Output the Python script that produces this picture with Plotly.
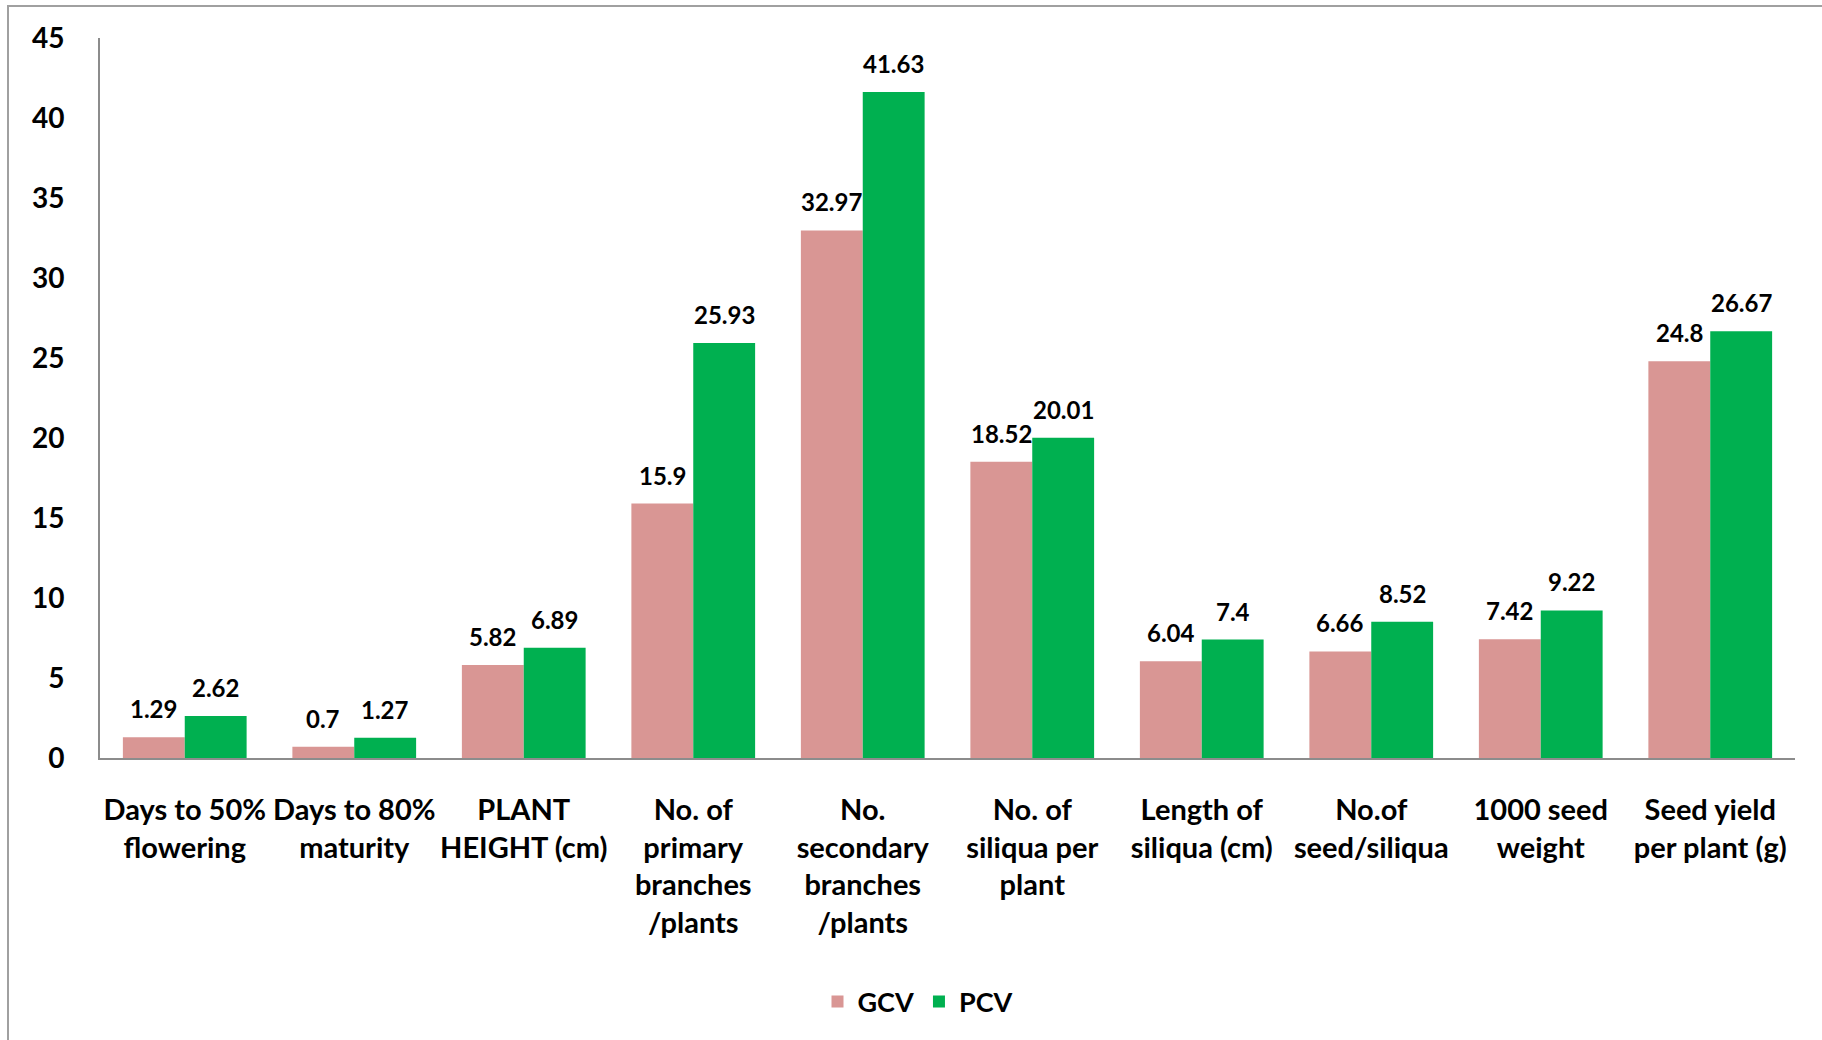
import plotly.graph_objects as go

categories = [
    "Days to 50%<br>flowering",
    "Days to 80%<br>maturity",
    "PLANT<br>HEIGHT (cm)",
    "No. of<br>primary<br>branches<br>/plants",
    "No.<br>secondary<br>branches<br>/plants",
    "No. of<br>siliqua per<br>plant",
    "Length of<br>siliqua (cm)",
    "No.of<br>seed/siliqua",
    "1000 seed<br>weight",
    "Seed yield<br>per plant (g)",
]
gcv = [1.29, 0.7, 5.82, 15.9, 32.97, 18.52, 6.04, 6.66, 7.42, 24.8]
pcv = [2.62, 1.27, 6.89, 25.93, 41.63, 20.01, 7.4, 8.52, 9.22, 26.67]
y_ticks = [0, 5, 10, 15, 20, 25, 30, 35, 40, 45]

FONT = "Lato"
GCV_COLOR = "#D99694"
PCV_COLOR = "#00B050"

W, H = 1822, 1040
L, R, T, B = 100, 27, 38, 282
plot_w = W - L - R
plot_h = H - T - B

fig = go.Figure()
fig.add_trace(go.Bar(name="GCV", x=categories, y=gcv, marker=dict(color=GCV_COLOR, line=dict(width=0))))
fig.add_trace(go.Bar(name="PCV", x=categories, y=pcv, marker=dict(color=PCV_COLOR, line=dict(width=0))))

# data labels
cat_w = plot_w / len(categories)
bargap = 0.27
bar_w = cat_w * (1 - bargap) / 2
annotations = []
for series, shift in ((gcv, -bar_w / 2), (pcv, bar_w / 2)):
    for c, v in zip(categories, series):
        annotations.append(dict(
            x=c, y=v, xref="x", yref="y", text=f"<b>{v:g}</b>", showarrow=False,
            xanchor="center", yanchor="bottom", xshift=shift, yshift=12,
            font=dict(family=FONT, size=24, color="black"),
        ))

def px_x(px):
    return (px - L) / plot_w

def px_y(py):
    return (H - B - py) / plot_h

border = dict(color="#A0A0A0", width=2)
shapes = [
    dict(type="line", xref="paper", yref="paper", x0=px_x(7), x1=px_x(W + 5), y0=px_y(6), y1=px_y(6), line=border),
    dict(type="line", xref="paper", yref="paper", x0=px_x(8), x1=px_x(8), y0=px_y(6), y1=px_y(H + 5), line=border),
]

fig.update_layout(
    width=W, height=H,
    margin=dict(l=L, r=R, t=T, b=B, pad=0),
    paper_bgcolor="white", plot_bgcolor="white",
    barmode="group", bargap=bargap, bargroupgap=0,
    font=dict(family=FONT, size=28, color="black", weight="bold"),
    showlegend=True,
    legend=dict(
        orientation="h", x=px_x(918), y=px_y(1002), xanchor="center", yanchor="middle",
        font=dict(family=FONT, size=27, color="black", weight="bold"),
        itemsizing="constant", traceorder="normal",
    ),
    annotations=annotations,
    shapes=shapes,
)
fig.update_xaxes(
    showline=True, linecolor="#8C8C8C", linewidth=2, showgrid=False, ticks="",
    tickfont=dict(family=FONT, size=29, color="black", weight="bold"),
    ticklabelstandoff=25, tickangle=0,
)
fig.update_yaxes(
    range=[0, 45], tickvals=y_ticks, showline=True, linecolor="#8C8C8C", linewidth=2,
    showgrid=False, zeroline=False, ticks="",
    tickfont=dict(family=FONT, size=28, color="black", weight="bold"),
    ticklabelstandoff=28,
)

fig.write_html("out.html")
